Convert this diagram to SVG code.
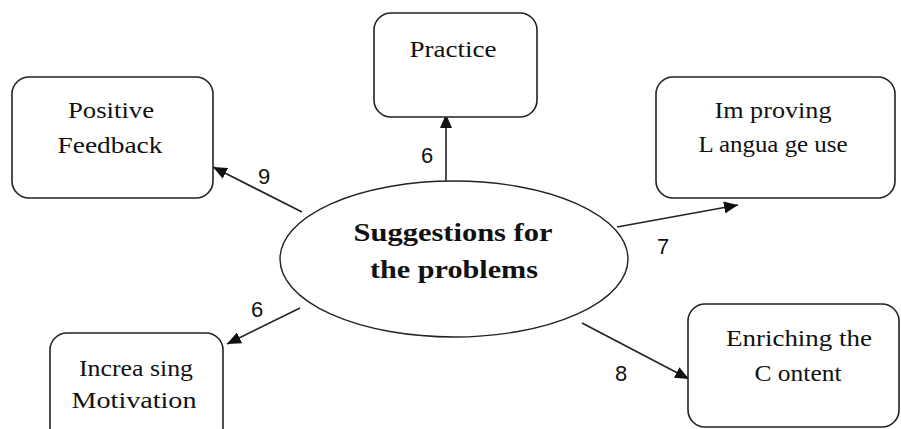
<svg xmlns="http://www.w3.org/2000/svg" width="901" height="429" viewBox="0 0 901 429">
  <defs>
    <marker id="arrow" viewBox="0 0 14 12" refX="14" refY="6" markerWidth="14" markerHeight="12" markerUnits="userSpaceOnUse" orient="auto">
      <path d="M0,0 L14,6 L0,12 Z" fill="#111"/>
    </marker>
  </defs>
  <style>
    .box { fill: #fff; stroke: #222; stroke-width: 1.6; }
    .hub { fill: #fff; stroke: #222; stroke-width: 1.4; }
    .lbl { font-family: "Liberation Serif", "Times New Roman", serif; font-size: 24px; fill: #111; text-anchor: middle; }
    .hubtxt { font-family: "Liberation Serif", "Times New Roman", serif; font-size: 25px; font-weight: bold; fill: #111; text-anchor: middle; }
    .num { font-family: "Liberation Sans", Arial, sans-serif; font-size: 22px; fill: #111; text-anchor: middle; }
    .edge { stroke: #222; stroke-width: 1.6; fill: none; marker-end: url(#arrow); }
  </style>
  <rect width="901" height="429" fill="#fff"/>

  <g id="connectors">
    <line class="edge" x1="302" y1="212" x2="213" y2="167"/>
    <line class="edge" x1="446" y1="181" x2="446" y2="114"/>
    <line class="edge" x1="617" y1="227" x2="738" y2="205"/>
    <line class="edge" x1="300" y1="308" x2="227" y2="344"/>
    <line class="edge" x1="582" y1="323" x2="689" y2="379"/>
    <text class="num" x="264" y="184">9</text>
    <text class="num" x="427" y="163">6</text>
    <text class="num" x="663" y="254">7</text>
    <text class="num" x="257" y="317">6</text>
    <text class="num" x="621" y="381">8</text>
  </g>

  <g id="hub">
    <ellipse class="hub" cx="454" cy="259" rx="174" ry="78"/>
    <text class="hubtxt" x="453" y="241" textLength="199" lengthAdjust="spacingAndGlyphs">Suggestions for</text>
    <text class="hubtxt" x="454" y="278" textLength="168" lengthAdjust="spacingAndGlyphs">the problems</text>
  </g>

  <g id="positive-feedback">
    <rect class="box" x="12" y="77" width="201" height="121" rx="17"/>
    <text class="lbl" x="111" y="118" textLength="86" lengthAdjust="spacingAndGlyphs">Positive</text>
    <text class="lbl" x="110" y="153" textLength="105" lengthAdjust="spacingAndGlyphs">Feedback</text>
  </g>

  <g id="practice">
    <rect class="box" x="374" y="13" width="163" height="104" rx="17"/>
    <text class="lbl" x="453" y="57" textLength="87" lengthAdjust="spacingAndGlyphs">Practice</text>
  </g>

  <g id="improving-language">
    <rect class="box" x="656" y="77" width="239" height="121" rx="17"/>
    <text class="lbl" x="773" y="118" textLength="117" lengthAdjust="spacingAndGlyphs">Im proving</text>
    <text class="lbl" x="773" y="152" textLength="149" lengthAdjust="spacingAndGlyphs">L angua ge use</text>
  </g>

  <g id="increasing-motivation">
    <rect class="box" x="50" y="333" width="173" height="115" rx="17"/>
    <text class="lbl" x="136" y="376" textLength="114" lengthAdjust="spacingAndGlyphs">Increa sing</text>
    <text class="lbl" x="134" y="408" textLength="125" lengthAdjust="spacingAndGlyphs">Motivation</text>
  </g>

  <g id="enriching-content">
    <rect class="box" x="688" y="304" width="211" height="123" rx="17"/>
    <text class="lbl" x="799" y="346" textLength="146" lengthAdjust="spacingAndGlyphs">Enriching the</text>
    <text class="lbl" x="798" y="381" textLength="87" lengthAdjust="spacingAndGlyphs">C ontent</text>
  </g>
</svg>
